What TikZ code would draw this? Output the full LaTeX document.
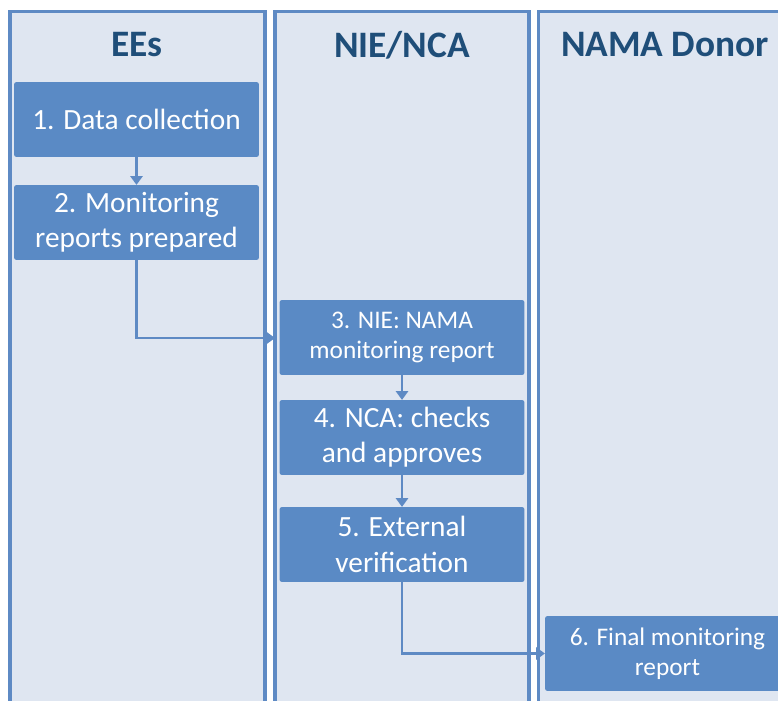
\documentclass[tikz,border=0pt]{standalone}
\usepackage{fontspec}
\setmainfont{Carlito}
\usetikzlibrary{arrows.meta}
\definecolor{lanefill}{HTML}{DFE6F1}
\definecolor{laneline}{HTML}{5E8AC4}
\definecolor{boxfill}{HTML}{5A8AC5}
\definecolor{titlecol}{HTML}{1F4E79}
\tikzset{
  lanefillst/.style={fill=lanefill, draw=none},
  lane/.style={draw=laneline, line width=2.4pt},
  title/.style={font=\fontsize{28}{32}\selectfont\bfseries, text=titlecol, anchor=center},
  stepbox/.style={fill=boxfill, draw=none, rounded corners=1.5pt, minimum width=183.5pt, minimum height=56pt, align=center, text=white, font=\fontsize{22}{26.5}\selectfont, inner sep=0pt},
  smallbox/.style={stepbox, font=\fontsize{19}{22.5}\selectfont},
  conn/.style={draw=laneline, line width=2.2pt, -{Triangle[length=6.5pt,width=9pt]}}
}
\begin{document}
\begin{tikzpicture}[x=0.75pt,y=-0.75pt]
\useasboundingbox (0,0) rectangle (778,700);
\clip (0,0) rectangle (778,700);
\fill[white] (0,0) rectangle (778,700);
% lanes
\fill[lanefillst] (10,11.5) rectangle (265,720);
\fill[lanefillst] (275,11.5) rectangle (529,720);
\fill[lanefillst] (538.5,11.5) rectangle (800,720);
\draw[lane] (10,720) -- (10,11.5) -- (265,11.5) -- (265,720);
\draw[lane] (275,720) -- (275,11.5) -- (529,11.5) -- (529,720);
\draw[lane] (538.5,720) -- (538.5,11.5) -- (800,11.5);
% titles
\node[title] (t1) at (137,45) {EEs};
\node[title] (t2) at (402,45) {NIE/NCA};
\node[title] (t3) at (665,45) {NAMA Donor};
% boxes
\node[stepbox] (b1) at (136.5,119.5) {1. Data collection};
\node[stepbox] (b2) at (136.5,222.5) {2. Monitoring\\reports prepared};
\node[smallbox] (b3) at (402,337.5) {3. NIE: NAMA\\monitoring report};
\node[stepbox] (b4) at (402,437.5) {4. NCA: checks\\and approves};
\node[stepbox] (b5) at (402,544.5) {5. External\\verification};
\node[smallbox] (b6) at (667.5,653.5) {6. Final monitoring\\report};
\coordinate (c3) at (275,338);
% connectors
\draw[conn] (b1.south) -- (b2.north);
\draw[conn] (b2.south) |- (c3);
\draw[conn] (b3.south) -- (b4.north);
\draw[conn] (b4.south) -- (b5.north);
\draw[conn] (b5.south) |- (b6.west);
\end{tikzpicture}
\end{document}
